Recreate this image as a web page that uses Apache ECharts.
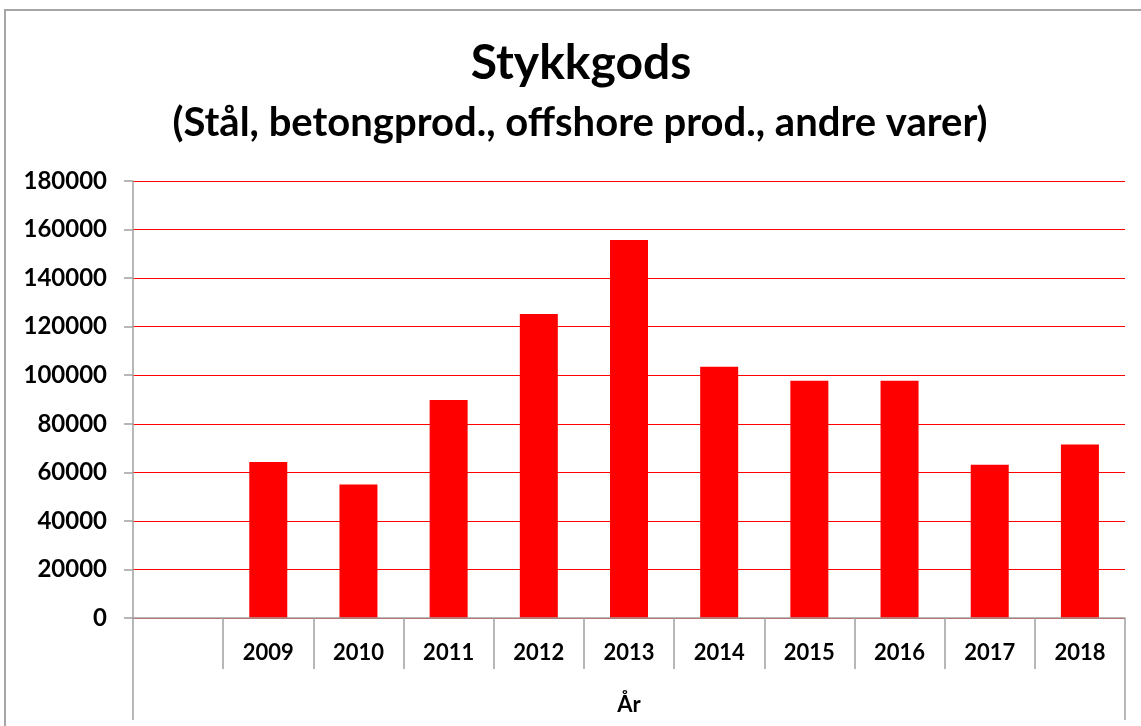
<!DOCTYPE html>
<html>
<head>
<meta charset="utf-8">
<script src="https://cdn.jsdelivr.net/npm/echarts@6/dist/echarts.min.js"></script>
<style>
  html, body { margin: 0; padding: 0; background: #fff; overflow: hidden; }
  #main { position: absolute; left: 0; top: 0; width: 1141px; height: 726px; }
  #frame { position: absolute; left: 4px; top: 9px; width: 1200px; height: 800px;
           border: 2px solid #a6a6a6; pointer-events: none; }
</style>
</head>
<body>
<div id="main"></div>
<div id="frame"></div>
<script>
// kategorier (første er tom, som i Excel-arket)
const years = ['', '2009', '2010', '2011', '2012', '2013', '2014', '2015', '2016', '2017', '2018'];
// tonn stykkgods per år
const tonnes = [null, 64300, 55000, 89800, 125200, 155700, 103500, 97700, 97700, 63100, 71500];
const outerCat = ['År'];

const chart = echarts.init(document.getElementById('main'));
const font = 'Lato, "Open Sans", sans-serif';
const grey = '#a0a0a0';

chart.setOption({
  animation: false,
  title: [{
    text: 'Stykkgods',
    left: 581,
    top: 40,
    padding: 0,
    textAlign: 'center',
    textStyle: { fontFamily: font, fontWeight: 'bold', fontSize: 48, color: '#000' }
  }, {
    text: '(Stål, betongprod., offshore prod., andre varer)',
    left: 580,
    top: 103,
    padding: 0,
    textAlign: 'center',
    textStyle: { fontFamily: font, fontWeight: 'bold', fontSize: 40, color: '#000' }
  }],
  grid: { left: 133, right: 16, top: 181, bottom: 108, containLabel: false },
  xAxis: [{
    type: 'category',
    data: years,
    position: 'bottom',
    axisLine: { lineStyle: { color: grey, width: 1.5 } },
    axisTick: { show: true, interval: 0, length: 51, lineStyle: { color: grey, width: 1.5 } },
    axisLabel: { interval: 0, margin: 24, color: '#000', fontFamily: font, fontWeight: 'bold', fontSize: 22 },
    z: 5
  }, {
    // ytre nivå: "År"
    type: 'category',
    data: outerCat,
    position: 'bottom',
    axisLine: { show: false },
    axisTick: { show: true, length: 102, lineStyle: { color: grey, width: 1.5 } },
    axisLabel: { margin: 76, color: '#000', fontFamily: font, fontWeight: 'bold', fontSize: 22 },
    z: 5
  }],
  yAxis: {
    type: 'value',
    min: 0,
    max: 180000,
    interval: 20000,
    axisLine: { show: true, lineStyle: { color: grey, width: 1.5 } },
    axisTick: { show: true, length: 9, lineStyle: { color: grey, width: 1.5 } },
    axisLabel: {
      margin: 26, color: '#000', fontFamily: font, fontWeight: 'bold', fontSize: 24,
      formatter: function (v) { return String(v); }
    },
    splitLine: { show: true, lineStyle: { color: '#ff0000', width: 1.2 } }
  },
  series: [{
    type: 'bar',
    xAxisIndex: 0,
    data: tonnes,
    barWidth: 38,
    itemStyle: { color: '#ff0000' }
  }]
});
</script>
</body>
</html>
